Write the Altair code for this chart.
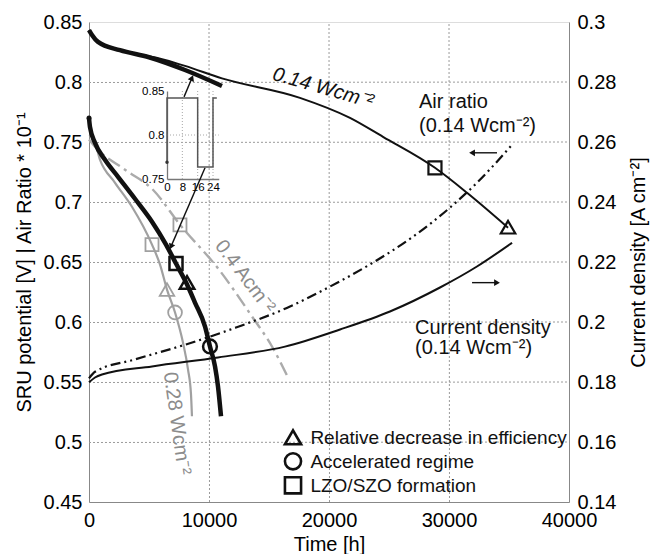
import altair as alt
import pandas as pd

FONT = "Liberation Sans"
BLACK = "#111111"
GREY_LINE = "#a0a0a0"
GREY_DASH = "#ababab"
GREY_TXT = "#8c8c8c"
FRAME = "#8a8a8a"
GRID = "#9a9a9a"

# ---------------- ticks ----------------
time_ticks = [0, 10000, 20000, 30000, 40000]
potential_ticks = [0.45, 0.5, 0.55, 0.6, 0.65, 0.7, 0.75, 0.8, 0.85]
current_ticks = [0.14, 0.16, 0.18, 0.2, 0.22, 0.24, 0.26, 0.28, 0.3]
inset_hours = [0, 8, 16, 24]
inset_ticks = [0.75, 0.8, 0.85]

# ---------------- series ----------------
thin_t = [0, 250, 750, 2580, 6330, 8000, 11080, 17580, 21750, 24500, 28830, 31500, 34920]
thin_v = [0.8433, 0.8392, 0.8334, 0.8267, 0.8184, 0.8134, 0.803, 0.7868, 0.7701, 0.7543, 0.7285, 0.7077, 0.6786]

top_t = [0, 250, 750, 2580, 5000, 8000, 11080]
top_v = [0.8433, 0.8392, 0.8334, 0.8265, 0.8206, 0.810, 0.7967]

steep_t = [0, 80, 500, 1330, 2420, 3830, 5250, 6420, 7250, 8170, 8830, 9670, 10080, 10500, 10750, 11000]
steep_v = [0.7701, 0.7626, 0.7493, 0.7352, 0.7210, 0.7027, 0.6836, 0.6645, 0.6487, 0.6312, 0.6162, 0.5962, 0.5796, 0.5630, 0.5463, 0.5214]

w28_t = [0, 330, 920, 2170, 3580, 5250, 5920, 6500, 7170, 7830, 8250, 8500, 8580]
w28_v = [0.756, 0.7543, 0.7352, 0.716, 0.696, 0.6645, 0.6478, 0.627, 0.6079, 0.5829, 0.5605, 0.5397, 0.5214]

a04_t = [0, 500, 3000, 5330, 7580, 10830, 13580, 15250, 16580]
a04_v = [0.752, 0.746, 0.7269, 0.7102, 0.6811, 0.6437, 0.6046, 0.5796, 0.5538]

air_t = [0, 500, 3830, 8080, 12250, 16750, 20080, 23670, 27000, 30170, 32330, 35250]
air_v = [0.553, 0.5585, 0.5688, 0.5813, 0.5954, 0.6129, 0.6295, 0.6495, 0.6711, 0.6961, 0.7160, 0.7477]

cd_t = [0, 500, 1080, 5250, 10750, 16330, 20920, 25080, 29250, 32330, 35250]
cd_v = [0.1799, 0.1815, 0.1825, 0.1852, 0.1882, 0.1918, 0.1975, 0.2035, 0.2115, 0.2185, 0.2264]

REL = "Relative decrease in efficiency"
ACC = "Accelerated regime"
LZO = "LZO/SZO formation"
events = [REL, ACC, LZO]
event_shapes = ["triangle-up", "circle", "square"]
event_sizes = [210, 170, 120]

thin_mk_t = [28830, 34920]
thin_mk_v = [0.7285, 0.679]
thin_mk_e = [LZO, REL]

steep_mk_t = [7250, 8170, 10080]
steep_mk_v = [0.6487, 0.633, 0.5796]
steep_mk_e = [LZO, REL, ACC]

w28_mk_t = [5250, 6500, 7170]
w28_mk_v = [0.6645, 0.627, 0.608]
w28_mk_e = [LZO, REL, ACC]

a04_mk_t = [7580]
a04_mk_v = [0.681]
a04_mk_e = [LZO]

# legend entries (key placed inside the plot, bottom centre)
key_t = [17000, 17000, 17000]
key_label_t = [18450, 18450, 18450]
key_v = [0.5039, 0.4839, 0.4639]

inset_h = [0, 0, 16, 16, 24, 24, 26]
inset_v = [0.769, 0.842, 0.842, 0.7636, 0.7636, 0.842, 0.842]

arrow_t = [7920, 9670, 34000, 31920]
arrow_v = [0.7876, 0.7285, 0.741, 0.6328]
arrow_t2 = [8580, 6830, 31920, 34000]
arrow_v2 = [0.8034, 0.6628, 0.741, 0.6328]
arrow_dir = [23, 203, 270, 90]

curve_lbl = ["0.4 Acm⁻²", "0.28 Wcm⁻²"]
curve_lbl_t = [13000, 7330]
curve_lbl_v = [0.6378, 0.5155]
curve_lbl_ang = [53, 82]

w14_lbl = ["0.14 Wcm⁻²"]
w14_lbl_t = [19500]
w14_lbl_v = [0.795]

side_lbl = ["Air ratio", "(0.14 Wcm⁻²)", "Current density", "(0.14 Wcm⁻²)"]
side_lbl_t = [27500, 27500, 27170, 27170]
side_lbl_v = [0.7785, 0.7585, 0.5904, 0.573]

# ---------------- scales / axes ----------------
T_SCALE = alt.Scale(domain=[0, 40000], nice=False, zero=False)
V_SCALE = alt.Scale(domain=[0.45, 0.85], nice=False, zero=False)

x_axis = alt.Axis(orient="bottom", values=time_ticks, format="d", title="Time [h]",
                  grid=False, ticks=False, labelPadding=8, labelFlush=False,
                  labelFontSize=20, titleFontSize=20, titleX=240, titleY=48,
                  titleBaseline="alphabetic", titleFontWeight="normal")
y_axis = alt.Axis(orient="left", values=potential_ticks, format=".2~f",
                  title="SRU potential [V] | Air Ratio * 10⁻¹", grid=False, ticks=False,
                  labelPadding=7, labelFlush=False, labelFontSize=20, titleFontSize=20,
                  titleAngle=270, titleX=-65, titleY=240, titleAlign="center",
                  titleBaseline="middle", titleFontWeight="normal")

X = alt.X("t:Q", scale=T_SCALE, axis=None)
Y = alt.Y("v:Q", scale=V_SCALE, axis=None)
XA = alt.X("t:Q", scale=T_SCALE, axis=x_axis)
YA = alt.Y("v:Q", scale=V_SCALE, axis=y_axis)


def series(t, v):
    return pd.DataFrame({"t": t, "v": v})


def line(t, v, x=X, y=Y, **kw):
    return alt.Chart(series(t, v)).mark_line(interpolate="monotone", **kw).encode(x=x, y=y)


# dotted grid drawn from the tick lists (half-pixel offset keeps the 1px lines crisp)
n_v = len(time_ticks) - 2
vgrid_df = pd.DataFrame({"t": time_ticks[1:-1], "t2": time_ticks[1:-1],
                         "v": [potential_ticks[0]] * n_v, "v2": [potential_ticks[-1]] * n_v})
vgrid = alt.Chart(vgrid_df).mark_rule(color=GRID, strokeDash=[2, 2], strokeWidth=1,
                                      xOffset=0.5).encode(x=X, y=Y, x2="t2:Q", y2="v2:Q")
n_h = len(potential_ticks) - 2
hgrid_df = pd.DataFrame({"v": potential_ticks[1:-1], "v2": potential_ticks[1:-1],
                         "t": [time_ticks[0]] * n_h, "t2": [time_ticks[-1]] * n_h})
hgrid = alt.Chart(hgrid_df).mark_rule(color=GRID, strokeDash=[2, 2], strokeWidth=1,
                                      yOffset=0.5).encode(x=X, y=Y, x2="t2:Q", y2="v2:Q")

SHAPE = alt.Shape("event:N", scale=alt.Scale(domain=events, range=event_shapes), legend=None)
SIZE = alt.Size("event:N", scale=alt.Scale(domain=events, range=event_sizes), legend=None)


def markers(t, v, e, color, sw):
    df = pd.DataFrame({"t": t, "v": v, "event": e})
    return alt.Chart(df).mark_point(filled=False, color=color, strokeWidth=sw, opacity=1).encode(
        x=X, y=Y, shape=SHAPE, size=SIZE)


thin = line(thin_t, thin_v, x=XA, y=YA, color=BLACK, strokeWidth=2)
top = line(top_t, top_v, color=BLACK, strokeWidth=4.5)
steep = line(steep_t, steep_v, color=BLACK, strokeWidth=4.5)
w28 = line(w28_t, w28_v, color=GREY_LINE, strokeWidth=2.2)
a04 = line(a04_t, a04_v, color=GREY_DASH, strokeWidth=2.4, strokeDash=[14, 5, 3, 5])
air = line(air_t, air_v, color=BLACK, strokeWidth=2.2, strokeDash=[10, 4, 2, 4, 2, 4])

start_dot = alt.Chart(series(steep_t[:1], steep_v[:1])).mark_point(
    filled=True, color=BLACK, size=25, opacity=1).encode(x=X, y=Y)

mk1 = markers(thin_mk_t, thin_mk_v, thin_mk_e, BLACK, 2.2)
mk2 = markers(steep_mk_t, steep_mk_v, steep_mk_e, BLACK, 2.5)
mk3 = markers(w28_mk_t, w28_mk_v, w28_mk_e, GREY_LINE, 1.8)
mk4 = markers(a04_mk_t, a04_mk_v, a04_mk_e, GREY_LINE, 1.8)

# key (legend) symbols and labels
key_sym = alt.Chart(pd.DataFrame({"t": key_t, "v": key_v, "event": events})).mark_point(
    filled=False, color=BLACK, strokeWidth=2.6, opacity=1).encode(
    x=X, y=Y, shape=SHAPE, size=alt.value(260))
key_txt = alt.Chart(pd.DataFrame({"t": key_label_t, "v": key_v, "event": events})).mark_text(
    font=FONT, fontSize=19, color=BLACK, align="left", baseline="middle", dy=1).encode(
    x=X, y=Y, text="event:N")

arrows_df = pd.DataFrame({"t": arrow_t, "v": arrow_v, "t2": arrow_t2, "v2": arrow_v2})
arrow_lines = alt.Chart(arrows_df).mark_rule(color=BLACK, strokeWidth=1.4).encode(
    x=X, y=Y, x2="t2:Q", y2="v2:Q")
heads_df = pd.DataFrame({"t": arrow_t2, "v": arrow_v2, "dir": arrow_dir})
arrow_heads = alt.Chart(heads_df).mark_point(shape="triangle-up", filled=True, color=BLACK,
                                             size=45, opacity=1).encode(
    x=X, y=Y, angle=alt.Angle("dir:Q", scale=None))

curve_df = pd.DataFrame({"t": curve_lbl_t, "v": curve_lbl_v, "txt": curve_lbl, "ang": curve_lbl_ang})
curve_text = alt.Chart(curve_df).mark_text(font=FONT, fontSize=20, color=GREY_TXT,
                                           align="center", baseline="middle").encode(
    x=X, y=Y, text="txt:N", angle=alt.Angle("ang:Q", scale=None))

w14_df = pd.DataFrame({"t": w14_lbl_t, "v": w14_lbl_v, "txt": w14_lbl})
w14_text = alt.Chart(w14_df).mark_text(font=FONT, fontSize=20, color=BLACK, fontStyle="italic",
                                       align="center", baseline="middle", angle=16).encode(
    x=X, y=Y, text="txt:N")

side_df = pd.DataFrame({"t": side_lbl_t, "v": side_lbl_v, "txt": side_lbl})
side_text = alt.Chart(side_df).mark_text(font=FONT, fontSize=20, color=BLACK,
                                         align="left", baseline="alphabetic").encode(
    x=X, y=Y, text="txt:N")

# ---------------- current density (right axis) ----------------
r_axis = alt.Axis(orient="right", values=current_ticks, format=".2~f",
                  title="Current density [A cm⁻²]", grid=False, ticks=False,
                  labelPadding=8, labelFlush=False, labelFontSize=20, titleFontSize=20,
                  titleAngle=270, titleX=69, titleY=240, titleAlign="center",
                  titleBaseline="middle", titleFontWeight="normal")
cd = alt.Chart(series(cd_t, cd_v)).mark_line(interpolate="monotone", color=BLACK,
                                             strokeWidth=2).encode(
    x=X, y=alt.Y("v:Q", scale=alt.Scale(domain=[0.14, 0.30], nice=False, zero=False), axis=r_axis))

# ---------------- inset ----------------
IX_SCALE = alt.Scale(domain=[0, 27], range=[78, 129.75], nice=False, zero=False)
IY_SCALE = alt.Scale(domain=[0.75, 0.85], range=[157, 69], nice=False, zero=False)
ix_axis = alt.Axis(orient="bottom", offset=-323, values=inset_hours, format="d", title=None,
                   grid=False, ticks=False, labelPadding=2, labelFontSize=11.5,
                   labelFlush=False, labelOverlap=False, domainColor="#777777", domainWidth=1.3)
iy_axis = alt.Axis(orient="left", offset=-78, values=inset_ticks, format=".2~f", title=None,
                   grid=False, ticks=False, labelPadding=3, labelFontSize=11.5,
                   labelFlush=False, labelOverlap=False, domainColor="#777777", domainWidth=1.3)
IX = alt.X("h:Q", scale=IX_SCALE, axis=None)
IY = alt.Y("v:Q", scale=IY_SCALE, axis=None)

inset_df = pd.DataFrame({"h": inset_h, "v": inset_v, "o": list(range(len(inset_h)))})
inset_line = alt.Chart(inset_df).mark_line(color="#555555", strokeWidth=1.5).encode(
    x=alt.X("h:Q", scale=IX_SCALE, axis=ix_axis),
    y=alt.Y("v:Q", scale=IY_SCALE, axis=iy_axis), order="o:Q")
inset_dot = alt.Chart(inset_df.iloc[:1]).mark_point(filled=True, color="#333333", size=12,
                                                    opacity=1).encode(x=IX, y=IY)
ivg_df = pd.DataFrame({"h": inset_hours[1:], "h2": inset_hours[1:],
                       "v": [inset_ticks[0]] * 3, "v2": [inset_ticks[-1]] * 3})
inset_vgrid = alt.Chart(ivg_df).mark_rule(color="#a8a8a8", strokeDash=[1, 2], strokeWidth=1).encode(
    x=IX, y=IY, x2="h2:Q", y2="v2:Q")
ihg_df = pd.DataFrame({"v": inset_ticks[1:2], "v2": inset_ticks[1:2], "h": [0], "h2": [27]})
inset_hgrid = alt.Chart(ihg_df).mark_rule(color="#a8a8a8", strokeDash=[1, 2], strokeWidth=1).encode(
    x=IX, y=IY, x2="h2:Q", y2="v2:Q")

chart = alt.layer(
    vgrid, hgrid, inset_vgrid, inset_hgrid,
    a04, w28, air, thin, top, steep, start_dot, mk1, mk2, mk3, mk4, key_sym, key_txt,
    arrow_lines, arrow_heads, curve_text, w14_text, side_text, cd,
    inset_line, inset_dot,
).resolve_scale(
    x="independent", y="independent"
).properties(
    width=480, height=480,
    autosize=alt.AutoSizeParams(type="none"),
    padding={"left": 89, "top": 22, "right": 82, "bottom": 52},
).configure_view(
    stroke=FRAME, strokeWidth=1.5
).configure_axis(
    labelFont=FONT, titleFont=FONT, labelColor="black", titleColor="black",
    domainColor=FRAME, domainWidth=1.5
).configure(background="white")

chart.save("out.html", embed_options={"renderer": "svg", "actions": False})
